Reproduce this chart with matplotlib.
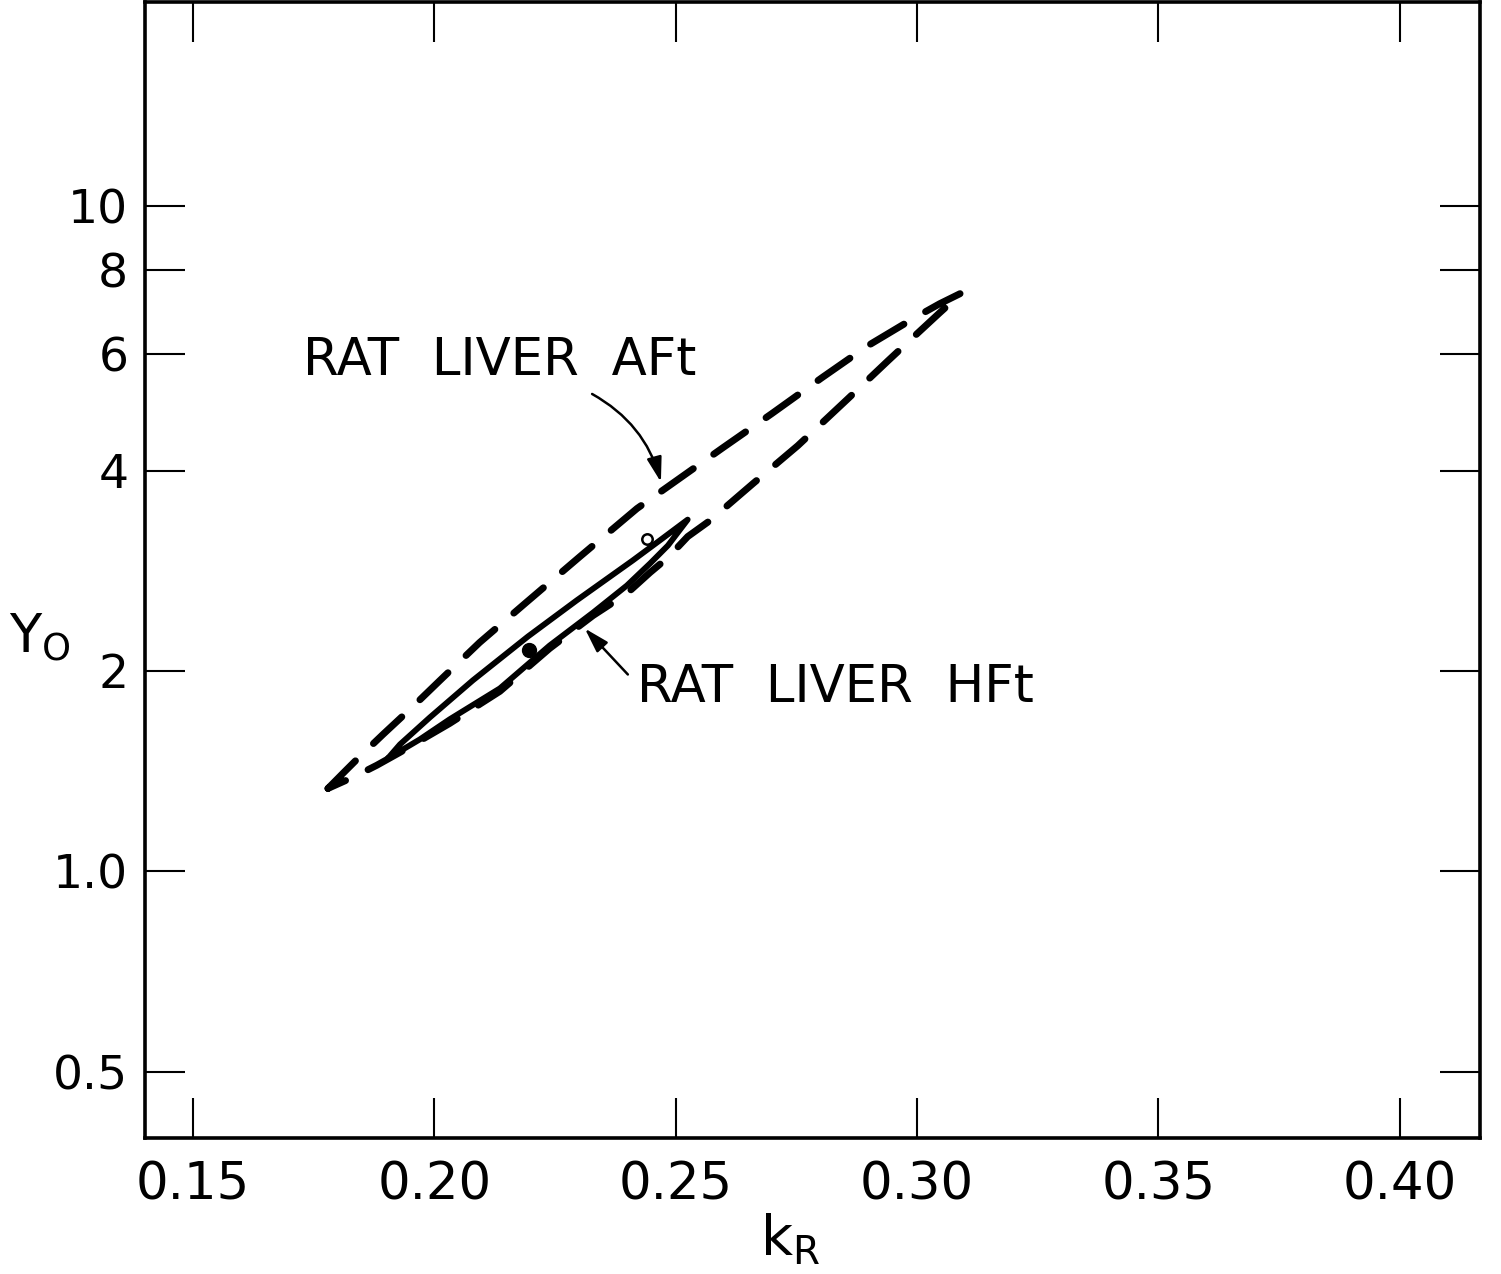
import matplotlib
matplotlib.use("Agg")
import matplotlib.pyplot as plt
from matplotlib.ticker import FixedLocator, FixedFormatter, NullLocator

# confidence contour for rat liver AFt (dashed), traced round from the low tip
aft_k = [0.1780, 0.1815, 0.1842, 0.1894, 0.1954, 0.2012, 0.2094, 0.2188, 0.2302,
         0.2420, 0.2525, 0.2598, 0.2699, 0.2803, 0.2898, 0.2995, 0.3047, 0.3093,
         0.3047, 0.3000, 0.2940, 0.2857, 0.2753, 0.2660, 0.2571, 0.2525, 0.2484,
         0.2447, 0.2399, 0.2329, 0.2239, 0.2136, 0.2032, 0.1929, 0.1881, 0.1836, 0.1780]
aft_y = [1.332, 1.413, 1.478, 1.606, 1.763, 1.936, 2.207, 2.526, 2.972,
         3.509, 3.973, 4.331, 4.872, 5.518, 6.163, 6.790, 7.128, 7.404,
         6.909, 6.425, 5.852, 5.132, 4.361, 3.824, 3.365, 3.184, 2.961,
         2.812, 2.615, 2.423, 2.162, 1.864, 1.668, 1.509, 1.443, 1.389, 1.332]

# confidence contour for rat liver HFt (solid)
hft_k = [0.1904, 0.1929, 0.1991, 0.2080, 0.2194, 0.2295, 0.2411, 0.2467, 0.2525,
         0.2484, 0.2447, 0.2399, 0.2329, 0.2239, 0.2136, 0.2032, 0.1970, 0.1904]
hft_y = [1.478, 1.551, 1.703, 1.936, 2.253, 2.553, 2.931, 3.141, 3.377,
         3.087, 2.901, 2.688, 2.448, 2.184, 1.883, 1.692, 1.578, 1.478]

# best-fit estimates
hft_best = (0.2196, 2.154)   # filled
aft_best = (0.2440, 3.162)   # open

x_ticks = [0.15, 0.20, 0.25, 0.30, 0.35, 0.40]
x_labels = ["0.15", "0.20", "0.25", "0.30", "0.35", "0.40"]
y_ticks = [0.5, 1.0, 2, 4, 6, 8, 10]
y_labels = ["0.5", "1.0", "2", "4", "6", "8", "10"]

W, H = 1501, 1274
fig = plt.figure(figsize=(W / 100, H / 100), dpi=100)
ax = fig.add_axes([145 / W, 1 - 1138 / H, 1335 / W, 1136 / H])

ax.set_yscale("log")
ax.set_xlim(0.1401, 0.4166)
ax.set_ylim(0.3973, 20.25)

ax.plot(aft_k, aft_y, color="black", lw=5, linestyle=(0, (5.6, 3.6)),
        dash_capstyle="round", solid_joinstyle="round")
ax.plot(hft_k, hft_y, color="black", lw=4.2, solid_joinstyle="round",
        solid_capstyle="round")
ax.plot(*hft_best, "o", color="black", ms=10)
ax.plot(*aft_best, "o", mfc="white", mec="black", mew=1.8, ms=7.5)

# axes styling
for sp in ax.spines.values():
    sp.set_linewidth(2.6)
ax.xaxis.set_major_locator(FixedLocator(x_ticks))
ax.xaxis.set_major_formatter(FixedFormatter(x_labels))
ax.yaxis.set_major_locator(FixedLocator(y_ticks))
ax.yaxis.set_major_formatter(FixedFormatter(y_labels))
ax.yaxis.set_minor_locator(NullLocator())
ax.xaxis.set_minor_locator(NullLocator())
ax.tick_params(which="major", direction="in", length=29, width=1.5,
               top=True, right=True, labelsize=34)
ax.tick_params(axis="x", pad=16, labelsize=37)
ax.tick_params(axis="y", pad=12)

# annotations
arrow = dict(arrowstyle="-|>,head_length=1.5,head_width=0.45", color="black", lw=1.8)
ax.text(0.1728, 5.85, "RAT  LIVER  AFt", fontsize=37, va="center", ha="left")
ax.annotate("", xy=(0.2471, 3.81), xytext=(0.2322, 5.24),
            arrowprops=dict(arrow, connectionstyle="arc3,rad=-0.22"))
ax.text(0.2420, 1.883, "RAT  LIVER  HFt", fontsize=37, va="center", ha="left")
ax.annotate("", xy=(0.2308, 2.333), xytext=(0.2405, 1.962), arrowprops=arrow)

# axis titles with subscripts
fig.text(40 / W, 1 - 638 / H, r"$\mathrm{Y_O}$", fontsize=38, ha="center", va="center")
fig.text(790 / W, 1 - 1240 / H, r"$\mathrm{k_R}$", fontsize=40, ha="center", va="center")

fig.savefig("out.png", dpi=100, facecolor="white")
